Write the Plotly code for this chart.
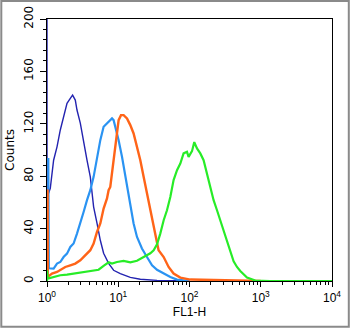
import plotly.graph_objects as go

# ---- data (FL1-H value, counts) ----
navy_x = [1.0, 1.0, 1.026, 1.112, 1.238, 1.382, 1.537, 1.710, 1.909, 2.124, 2.287, 2.495, 2.636,
          2.933, 3.264, 3.642, 4.053, 4.51, 5.03, 5.60, 6.23, 7.32, 8.61, 10.69, 14.76, 20.4, 35.0, 67.0, 100.0]
navy_y = [215, 65.5, 65.5, 70.8, 92.2, 102.4, 115.3, 125.3, 135.6, 139.4, 141.9, 138.1, 130.5,
          120.5, 105.2, 92.2, 79.5, 56.6, 44.1, 31.1, 21.2, 13.5, 8.2, 5.7, 2.8, 1.3, 0.5, 0.2, 0]

lblue_x = [1.0, 1.043, 1.06, 1.112, 1.238, 1.382, 1.537, 1.710, 1.909, 2.124, 2.362, 2.636, 2.933,
           3.264, 3.642, 4.053, 4.51, 5.03, 5.60, 6.23, 6.95, 7.73, 8.17, 8.61, 9.09, 10.12, 11.29,
           12.57, 13.97, 14.76, 16.42, 18.33, 21.5, 25.3, 29.8, 35.0, 43.4, 53.8, 66.8, 82.6, 100.0]
lblue_y = [93, 93, 9.7, 9.7, 9.5, 13.3, 14.5, 18.3, 20.9, 26.0, 28.6, 36.2, 43.9,
           52.7, 61.7, 69.3, 79.5, 94.8, 107.5, 117.7, 120.3, 122.8, 124.1, 122.8, 117.7, 107.5, 94.8,
           79.5, 64.2, 56.6, 43.9, 33.6, 24.8, 18.3, 12.0, 8.6, 5.7, 3.1, 1.1, 0.3, 0]

orange_x = [1.0, 1.02, 1.026, 1.175, 1.382, 1.537, 1.806, 2.124, 2.495, 2.933, 3.444, 4.053, 4.51,
            5.03, 5.60, 6.23, 6.95, 7.32, 7.73, 8.17, 8.61, 9.09, 9.60, 10.12, 10.93, 11.89, 13.27,
            14.76, 16.42, 18.33, 20.4, 22.7, 25.3, 26.7, 29.8, 33.1, 36.8, 43.4, 50.9, 59.8, 74.3,
            102.6, 270.0, 712.0, 1000.0]
orange_y = [69, 69, 3.1, 5.7, 6.9, 8.2, 10.7, 12.0, 13.3, 15.8, 19.6, 23.5, 28.6,
            37.4, 43.9, 55.3, 63.0, 69.3, 71.8, 82.1, 94.8, 105.0, 115.2, 122.8, 126.6, 126.6, 124.1,
            119.0, 112.6, 102.4, 92.2, 79.5, 66.8, 59.2, 46.4, 33.6, 23.5, 18.3, 10.7, 5.7, 2.6,
            1.1, 0.7, 0.4, 0]

green_x = [1.0, 1.0, 1.026, 1.238, 1.537, 1.909, 2.362, 2.933, 3.642, 4.51, 5.30, 6.23, 7.32, 8.17,
           9.60, 11.89, 14.76, 18.33, 22.7, 28.2, 31.4, 35.0, 38.9, 43.4, 48.3, 53.8, 59.8, 66.8,
           74.3, 82.6, 92.2, 97.1, 108.4, 116.7, 127.4, 141.8, 157.7, 176.1, 195.9, 217.9, 243.2,
           270.4, 301.0, 336.0, 374.0, 416.0, 464.0, 516.0, 641.0, 839.0, 1350.0, 10000.0]
green_y = [0, 8.2, 1.8, 3.1, 4.4, 4.9, 5.7, 6.1, 6.9, 7.6, 8.6, 11.6, 14.3, 13.3,
           14.5, 15.4, 14.3, 15.4, 18.1, 21.2, 23.5, 28.0, 36.2, 46.4, 54.0, 64.2, 77.0, 84.6,
           89.7, 97.4, 98.6, 94.8, 99.1, 106.0, 101.2, 97.4, 92.2, 82.1, 71.8, 61.7, 54.0,
           46.4, 38.7, 30.3, 23.5, 15.1, 10.7, 7.6, 2.6, 0.4, 0, 0]

x_tickvals = [1, 10, 100, 1000, 10000]
x_ticktext = ["10<sup>0</sup>", "10<sup>1</sup>", "10<sup>2</sup>", "10<sup>3</sup>", "10<sup>4</sup>"]
x_minor = [m * d for d in (1, 10, 100, 1000) for m in range(2, 10)]
y_tickvals = [0, 40, 80, 120, 160, 200]
y_minor = list(range(0, 201, 8))

fig = go.Figure()
fig.add_trace(go.Scatter(x=navy_x, y=navy_y, mode="lines", line=dict(color="#2323b0", width=1.4)))
fig.add_trace(go.Scatter(x=lblue_x, y=lblue_y, mode="lines", line=dict(color="#2a93f2", width=2.2)))
fig.add_trace(go.Scatter(x=orange_x, y=orange_y, mode="lines", line=dict(color="#ff6418", width=2.4)))
fig.add_trace(go.Scatter(x=green_x, y=green_y, mode="lines", line=dict(color="#27ec27", width=2.2)))

fig.update_layout(
    width=350, height=328,
    margin=dict(l=46.7, r=18.3, t=19, b=47.3, autoexpand=False),
    paper_bgcolor="white", plot_bgcolor="white",
    showlegend=False,
    font=dict(family="Liberation Sans, Arial, sans-serif", color="black", size=11),
)
fig.update_xaxes(
    type="log", range=[0, 4], automargin=False, layer="below traces",
    tickmode="array", tickvals=x_tickvals, ticktext=x_ticktext,
    ticks="outside", ticklen=5, tickwidth=1, tickcolor="black",
    minor=dict(tickmode="array", tickvals=x_minor, ticks="outside", ticklen=3, tickcolor="black"),
    showline=True, linecolor="black", linewidth=1.3, mirror=True,
    showgrid=False, zeroline=False,
    tickfont=dict(size=12),
    title=dict(text="FL1-H", font=dict(size=12), standoff=2),
)
fig.update_yaxes(
    range=[0, 200], automargin=False, layer="below traces",
    tickmode="array", tickvals=y_tickvals,
    ticks="outside", ticklen=6, tickwidth=1, tickcolor="black",
    minor=dict(tickmode="array", tickvals=y_minor, ticks="outside", ticklen=3, tickcolor="black"),
    tickangle=-90,
    showline=True, linecolor="black", linewidth=1.3, mirror=True,
    showgrid=False, zeroline=False,
    tickfont=dict(family="DejaVu Sans, sans-serif", size=12),
    ticklabelstandoff=2,
    title=dict(text="Counts", font=dict(family="DejaVu Sans, sans-serif", size=12), standoff=4),
)
# outer gray frame around the whole picture
fig.add_shape(type="rect", xref="paper", yref="paper",
              x0=-45.7 / 285, x1=(348.5 - 46.7) / 285,
              y0=(280.7 - 326.5) / 261.7, y1=(280.7 - 1.0) / 261.7,
              line=dict(color="#8a8a8a", width=2))

fig.write_html("out.html", config={"displayModeBar": False},
               post_script="document.body.style.margin='0';document.body.style.padding='0';")
